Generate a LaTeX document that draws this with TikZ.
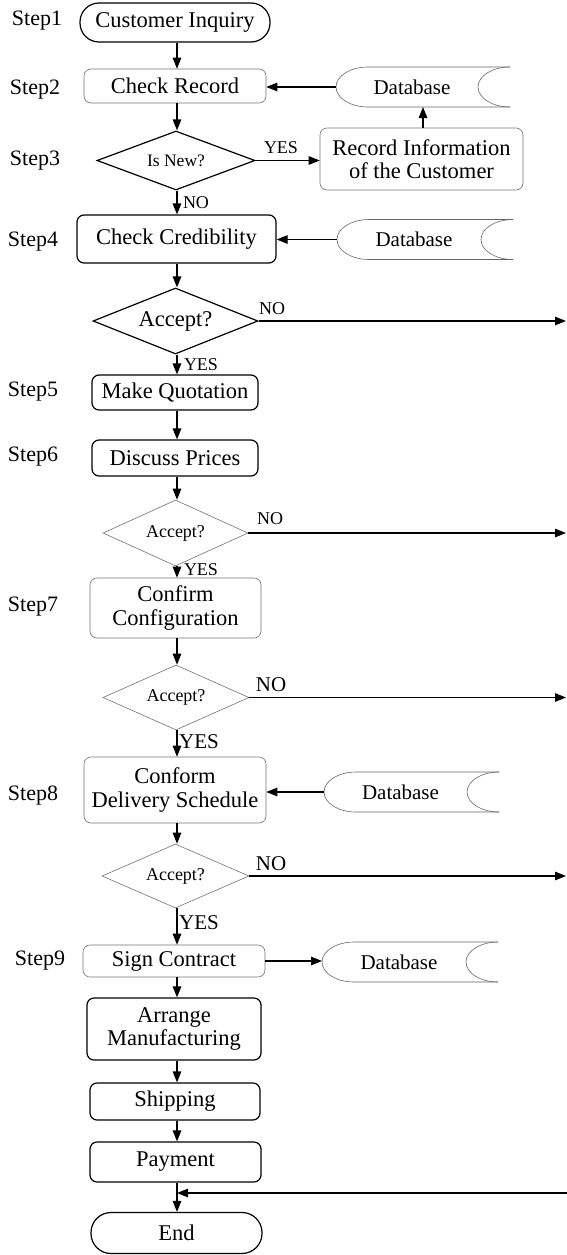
\documentclass[tikz,border=0pt]{standalone}
\usepackage{fontspec}
\setmainfont{Liberation Serif}
\usetikzlibrary{shapes.geometric,arrows.meta,calc}
\newcommand{\dboutline}[1]{%
  \draw[dbline] (#1.north east) -- ([xshift=32pt]#1.north west) arc[start angle=90,end angle=270,x radius=32pt,y radius=20pt] -- (#1.south east);
  \draw[dbline] (#1.north east) arc[start angle=90,end angle=270,x radius=32pt,y radius=20pt];}
\begin{document}
\begin{tikzpicture}[x=1pt,y=1pt,
  every node/.style={inner sep=0pt, align=center},
  main/.style={font=\fontsize{22.5}{23.5}\selectfont},
  thickbox/.style={main, draw=black, line width=1.2pt, rounded corners=7pt},
  thinbox/.style={main, draw=black!55, line width=0.6pt, rounded corners=7pt},
  term/.style={main, draw=black, line width=1.2pt, rounded corners=19pt},
  dthick/.style={diamond, aspect=2.5, draw=black, line width=1.2pt, font=\fontsize{22.5}{22.5}\selectfont},
  dthin/.style={diamond, aspect=2.2, draw=black!55, line width=0.6pt, font=\fontsize{18}{18}\selectfont},
  db/.style={minimum height=40pt, outer sep=0pt, font=\fontsize{21}{21}\selectfont},
  dbline/.style={draw=black!60, line width=0.6pt},
  steplabel/.style={font=\fontsize{22}{22}\selectfont},
  lblsmall/.style={font=\fontsize{18}{18}\selectfont},
  lblbig/.style={font=\fontsize{21}{21}\selectfont},
  arr/.style={-{Triangle[length=11pt,width=8.5pt]}, line width=1.2pt}
]
\useasboundingbox (0,0) rectangle (567,-1255);
\coordinate (col) at (177,0);

% nodes
\node[steplabel] (s1) at (37,-21) {Step1};
\node[term, minimum width=190pt, minimum height=39pt] (ci) at (175,-22.5) {Customer Inquiry};
\node[steplabel] (s2) at (35,-90) {Step2};
\node[thinbox, minimum width=182pt, minimum height=34pt] (cr) at (175,-86) {Check Record};
\node[db, minimum width=174pt] (dbA) at (423,-87) {Database\hspace*{22pt}};
\node[steplabel] (s3) at (35,-161) {Step3};
\node[dthick, minimum width=158pt, minimum height=59pt, font=\fontsize{17.5}{17.5}\selectfont] (isnew) at (176,-160.5) {Is New?};
\node[thinbox, minimum width=203pt, minimum height=62pt] (rec) at (421.5,-159) {Record Information\\of the Customer};
\node[steplabel] (s4) at (33,-242) {Step4};
\node[thickbox, minimum width=199pt, minimum height=48pt] (cc) at (176.5,-239) {Check Credibility};
\node[db, minimum width=176pt] (dbB) at (425,-239.5) {Database\hspace*{22pt}};
\node[dthick, minimum width=165pt, minimum height=66pt] (acc1) at (175.5,-321) {Accept?};
\node[steplabel] (s5) at (33,-392) {Step5};
\node[thickbox, minimum width=166pt, minimum height=35pt] (mq) at (175,-392.5) {Make Quotation};
\node[steplabel] (s6) at (33,-457) {Step6};
\node[thickbox, minimum width=166pt, minimum height=36pt] (dp) at (175,-458) {Discuss Prices};
\node[dthin, minimum width=145pt, minimum height=66pt] (acc2) at (175.5,-533) {Accept?};
\node[steplabel] (s7) at (33,-607) {Step7};
\node[thinbox, minimum width=171pt, minimum height=60pt] (cf) at (175.5,-608) {Confirm\\Configuration};
\node[dthin, minimum width=146pt, minimum height=65pt] (acc3) at (176,-697.5) {Accept?};
\node[steplabel] (s8) at (33,-796) {Step8};
\node[thinbox, minimum width=182pt, minimum height=66pt] (cd) at (175,-790) {Conform\\Delivery Schedule};
\node[db, minimum width=175pt] (dbC) at (411.5,-792) {Database\hspace*{22pt}};
\node[dthin, minimum width=147pt, minimum height=64pt] (acc4) at (175.5,-876) {Accept?};
\node[steplabel] (s9) at (40,-961) {Step9};
\node[thinbox, minimum width=182pt, minimum height=32pt] (sc) at (174,-961) {Sign Contract};
\node[db, minimum width=176pt] (dbD) at (410,-962) {Database\hspace*{22pt}};
\node[thickbox, minimum width=174pt, minimum height=62pt] (am) at (174,-1029) {Arrange\\Manufacturing};
\node[thickbox, minimum width=170pt, minimum height=37pt] (sh) at (175,-1101.5) {Shipping};
\node[thickbox, minimum width=171pt, minimum height=40pt] (pay) at (175.5,-1162) {Payment};
\node[term, minimum width=171pt, minimum height=41pt, rounded corners=20pt] (end) at (176.5,-1233) {End};

% database outlines
\dboutline{dbA}
\dboutline{dbB}
\dboutline{dbC}
\dboutline{dbD}

% labels
\node[lblsmall] (yes0) at (281,-148) {YES};
\node[lblsmall] (no0) at (196,-203) {NO};
\node[lblsmall] (no1) at (272,-309) {NO};
\node[lblsmall] (yes1) at (201,-365) {YES};
\node[lblsmall] (no2) at (270,-519) {NO};
\node[lblsmall] (yes2) at (201,-570) {YES};
\node[lblbig] (no3) at (271,-685) {NO};
\node[lblbig] (yes3) at (199,-742) {YES};
\node[lblbig] (no4) at (271,-864) {NO};
\node[lblbig] (yes4) at (199,-923) {YES};

% free ends
\coordinate (e1) at (566,-321);
\coordinate (e2) at (566,-533);
\coordinate (e3) at (566,-697.5);
\coordinate (e4) at (566,-876);
\coordinate (ret) at (567,-1193);

% connectors
\draw[arr] (ci.south -| col) -- (cr.north -| col);
\draw[arr] (dbA.west) -- (dbA.west -| cr.east);
\draw[arr] (cr.south -| col) -- (isnew.north -| col);
\draw[arr] (isnew.east) -- (isnew.east -| rec.west);
\draw[arr] (rec.north -| dbA.south) -- (dbA.south);
\draw[arr] (isnew.south -| col) -- (cc.north -| col);
\draw[arr] (dbB.west) -- (dbB.west -| cc.east);
\draw[arr] (cc.south -| col) -- (acc1.north -| col);
\draw[arr] (acc1.east) -- (e1);
\draw[arr] (acc1.south -| col) -- (mq.north -| col);
\draw[arr] (mq.south -| col) -- (dp.north -| col);
\draw[arr] (dp.south -| col) -- (acc2.north -| col);
\draw[arr] (acc2.east) -- (e2);
\draw[arr] (acc2.south -| col) -- (cf.north -| col);
\draw[arr] (cf.south -| col) -- (acc3.north -| col);
\draw[arr] (acc3.east) -- (e3);
\draw[arr] (acc3.south -| col) -- (cd.north -| col);
\draw[arr] (dbC.west) -- (dbC.west -| cd.east);
\draw[arr] (cd.south -| col) -- (acc4.north -| col);
\draw[arr] (acc4.east) -- (e4);
\draw[arr] (acc4.south -| col) -- (sc.north -| col);
\draw[arr] (sc.east) -- (sc.east -| dbD.west);
\draw[arr] (sc.south -| col) -- (am.north -| col);
\draw[arr] (am.south -| col) -- (sh.north -| col);
\draw[arr] (sh.south -| col) -- (pay.north -| col);
\draw[arr] (pay.south -| col) -- (end.north -| col);
\draw[arr] (ret) -- (ret -| col);
\end{tikzpicture}
\end{document}
